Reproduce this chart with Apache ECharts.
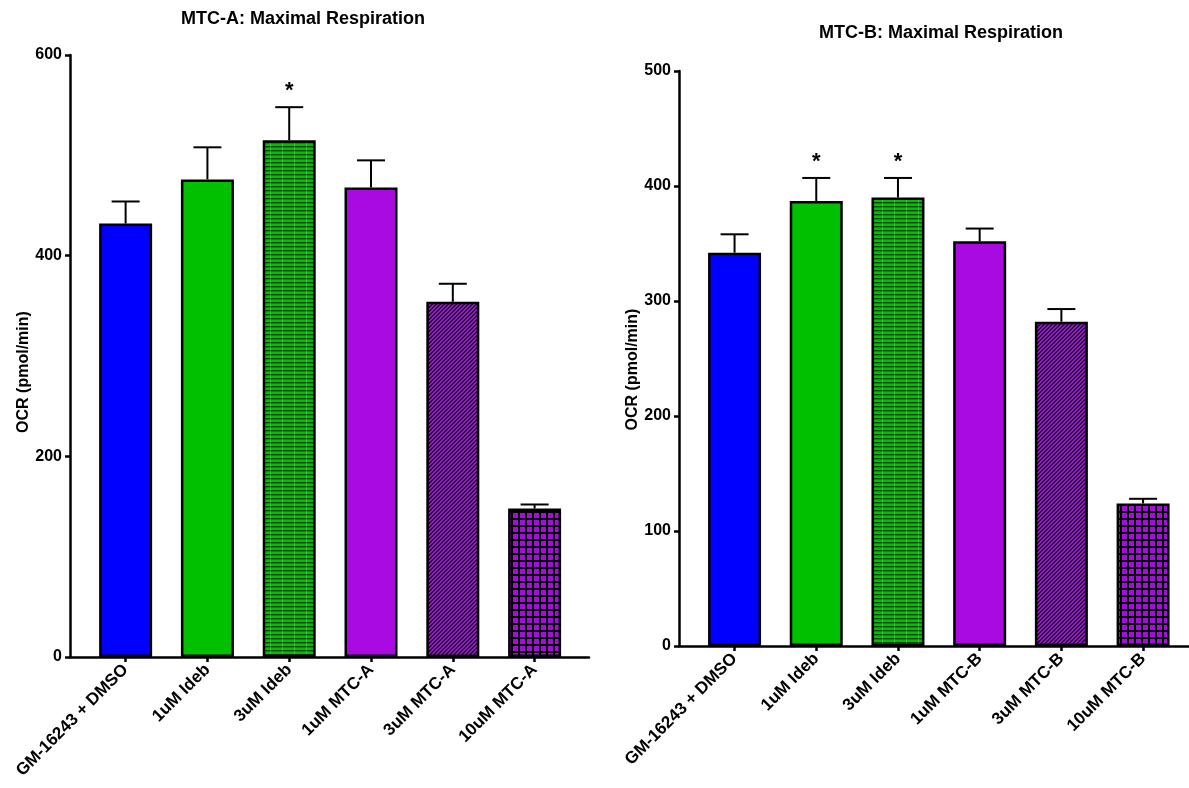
<!DOCTYPE html>
<html><head><meta charset="utf-8">
<script src="https://cdn.jsdelivr.net/npm/echarts@6/dist/echarts.min.js"></script>
<style>html,body{margin:0;padding:0;background:#fff}#c{width:1189px;height:788px}</style>
</head><body><div id="c"></div>
<script>
// ---- data ----
const catsA = ['GM-16243 + DMSO', '1uM Ideb', '3uM Ideb', '1uM MTC-A', '3uM MTC-A', '10uM MTC-A'];
const catsB = ['GM-16243 + DMSO', '1uM Ideb', '3uM Ideb', '1uM MTC-B', '3uM MTC-B', '10uM MTC-B'];
const meanA = [432, 476, 515, 468, 354, 148];
const errA  = [22, 32, 33, 27, 18, 4];
const sigA  = ['', '', '*', '', '', ''];
const meanB = [342, 387, 390, 352, 282, 124];
const errB  = [16, 20, 17, 11, 11, 4];
const sigB  = ['', '*', '*', '', '', ''];
const ticksA = [0, 200, 400, 600];
const ticksB = [0, 100, 200, 300, 400, 500];
const titleA = 'MTC-A: Maximal Respiration';
const titleB = 'MTC-B: Maximal Respiration';
const yName = 'OCR (pmol/min)';

// ---- patterns ----
const BLUE = '#0000FF', GREEN = '#00C000', PURPLE = '#AA0AE2';
function mk(w, h, draw) { const c = document.createElement('canvas'); c.width = w; c.height = h; const g = c.getContext('2d'); draw(g); return c; }
const pH = mk(12, 4, g => { g.fillStyle = GREEN; g.fillRect(0, 0, 12, 4); g.fillStyle = '#0a440a'; g.fillRect(0, 2, 12, 1.4); g.fillStyle = 'rgba(120,255,120,0.3)'; g.fillRect(6, 0, 1, 4); });
const pD = mk(4, 4, g => { g.fillStyle = PURPLE; g.fillRect(0, 0, 4, 4); g.fillStyle = '#1a0026'; for (let i = 0; i < 4; i++) { g.fillRect(i, 3 - i, 1, 1); g.fillRect((i + 1) % 4, 3 - i, 1, 1); } });
const pG = mk(7, 7, g => { g.fillStyle = PURPLE; g.fillRect(0, 0, 7, 7); g.fillStyle = '#000'; g.fillRect(0, 0, 7, 2); g.fillRect(0, 0, 2, 7); });
const fills = [BLUE, GREEN, { image: pH, repeat: 'repeat' }, PURPLE, { image: pD, repeat: 'repeat' }, { image: pG, repeat: 'repeat' }];

const FONT = "'Liberation Sans', Arial, sans-serif";
const AX = { color: '#000', width: 2.5 };
const idx = [0, 1, 2, 3, 4, 5];

function xAxis(gi, cats, max) {
  return {
    gridIndex: gi, type: 'value', min: -0.68, max: max,
    splitLine: { show: false },
    axisLine: { show: true, onZero: false, lineStyle: AX },
    axisTick: { show: true, customValues: idx, length: 5, lineStyle: AX },
    axisLabel: { customValues: idx, formatter: v => cats[Math.round(v)], rotate: 45, margin: 10,
      color: '#000', fontWeight: 'bold', fontSize: 17, fontFamily: FONT }
  };
}
function yAxis(gi, ticks, gap, pad) {
  return {
    gridIndex: gi, type: 'value', min: ticks[0], max: ticks[ticks.length - 1],
    splitLine: { show: false },
    axisLine: { show: true, onZero: false, lineStyle: AX },
    axisTick: { show: true, customValues: ticks, length: 5, lineStyle: AX },
    axisLabel: { customValues: ticks, margin: 8, color: '#000', fontWeight: 'bold', fontSize: 16, fontFamily: FONT },
    name: yName, nameLocation: 'middle', nameGap: gap,
    nameTextStyle: { color: '#000', fontWeight: 'bold', fontSize: 16, fontFamily: FONT, padding: [0, pad, 0, 0] }
  };
}
function bars(gi, mean) {
  return {
    type: 'bar', xAxisIndex: gi, yAxisIndex: gi, barWidth: 53,
    data: mean.map((v, i) => ({ value: [i, v], itemStyle: { color: fills[i] } })),
    itemStyle: { borderColor: '#000', borderWidth: 2.5 },
    emphasis: { disabled: true }, z: 2
  };
}
function errs(gi, mean, err, sig) {
  return {
    type: 'custom', xAxisIndex: gi, yAxisIndex: gi, z: 3,
    data: mean.map((v, i) => [i, v, err[i]]),
    renderItem: (params, api) => {
      const x = api.value(0), m = api.value(1), e = api.value(2);
      const b = api.coord([x, m]), t = api.coord([x, m + e]);
      const ls = { stroke: '#000', lineWidth: 2 };
      const ch = [
        { type: 'line', shape: { x1: b[0], y1: b[1], x2: t[0], y2: t[1] }, style: ls },
        { type: 'line', shape: { x1: t[0] - 14, y1: t[1], x2: t[0] + 14, y2: t[1] }, style: ls }
      ];
      const s = sig[params.dataIndex];
      if (s) ch.push({ type: 'text', x: t[0], y: t[1] - 16, style: { text: s, fill: '#000', font: 'bold 22px ' + FONT, align: 'center', verticalAlign: 'middle' } });
      return { type: 'group', children: ch };
    }
  };
}

const chart = echarts.init(document.getElementById('c'), null, { renderer: 'canvas' });
chart.setOption({
  animation: false,
  backgroundColor: '#fff',
  textStyle: { fontFamily: FONT },
  title: [
    { text: titleA, left: 298, top: 5, textAlign: 'center', textStyle: { color: '#000', fontWeight: 'bold', fontSize: 18, fontFamily: FONT } },
    { text: titleB, left: 936, top: 19, textAlign: 'center', textStyle: { color: '#000', fontWeight: 'bold', fontSize: 18, fontFamily: FONT } }
  ],
  grid: [
    { left: 70, right: 600, top: 55, bottom: 131 },
    { left: 679, right: 0, top: 71, bottom: 142 }
  ],
  xAxis: [xAxis(0, catsA, 5.665), xAxis(1, catsB, 5.562)],
  yAxis: [yAxis(0, ticksA, 35, 32), yAxis(1, ticksB, 33, 22)],
  series: [bars(0, meanA), errs(0, meanA, errA, sigA), bars(1, meanB), errs(1, meanB, errB, sigB)]
});
</script></body></html>
